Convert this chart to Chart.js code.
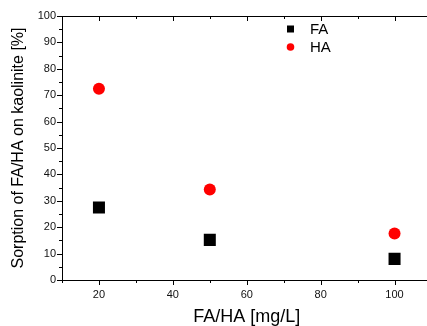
<!DOCTYPE html>
<html>
<head>
<meta charset="utf-8">
<script src="https://cdn.jsdelivr.net/npm/chart.js@4"></script>
<style>
  html, body { margin: 0; padding: 0; background: #fff; overflow: hidden; }
  #wrap { width: 440px; height: 326px; }
</style>
</head>
<body>
<div id="wrap"><canvas id="chart" width="440" height="326"></canvas></div>
<script>
const concentrations = [20, 50, 100];
const faValues = [27.5, 15.2, 8.0];
const haValues = [72.4, 34.3, 17.6];
const xTickValues = [20, 40, 60, 80, 100];
const yTickValues = [0, 10, 20, 30, 40, 50, 60, 70, 80, 90, 100];

const FONT = '"Liberation Sans", Arial, sans-serif';

// minor/major ticks + top border, origin-style
const frame = {
  id: 'frame',
  afterDraw(chart) {
    const { ctx, chartArea: a, scales: { x, y } } = chart;
    ctx.save();
    ctx.strokeStyle = '#000';
    ctx.lineWidth = 1;
    ctx.beginPath();
    ctx.moveTo(a.left, a.top + 0.5);
    ctx.lineTo(a.right, a.top + 0.5);
    ctx.moveTo(a.right - 0.5, a.top);
    ctx.lineTo(a.right - 0.5, a.bottom);
    for (let v = x.min; v <= x.max; v += 10) {
      const px = Math.round(x.getPixelForValue(v)) + 0.5;
      const len = v % 20 === 0 ? 5 : 3;
      ctx.moveTo(px, a.bottom);
      ctx.lineTo(px, a.bottom + len);
      ctx.moveTo(px, a.top);
      ctx.lineTo(px, a.top + len);
    }
    for (let v = y.min; v <= y.max; v += 5) {
      const py = Math.round(y.getPixelForValue(v)) + 0.5;
      const len = v % 10 === 0 ? 5 : 3;
      ctx.moveTo(a.left, py);
      ctx.lineTo(a.left - len, py);
    }
    ctx.stroke();
    ctx.restore();
  }
};

// legend inside the plot, top right
const innerLegend = {
  id: 'innerLegend',
  afterDraw(chart) {
    const { ctx } = chart;
    ctx.save();
    ctx.font = '15px ' + FONT;
    ctx.textBaseline = 'middle';
    chart.data.datasets.forEach((ds, i) => {
      const cy = 29 + i * 18;
      ctx.fillStyle = ds.backgroundColor;
      if (ds.pointStyle === 'rect') {
        ctx.fillRect(287, cy - 3.5, 7, 7);
      } else {
        ctx.beginPath();
        ctx.arc(290.5, cy, 3.8, 0, Math.PI * 2);
        ctx.fill();
      }
      ctx.fillStyle = '#000';
      ctx.fillText(ds.label, 310, cy + 1);
    });
    ctx.restore();
  }
};

const ctx = document.getElementById('chart').getContext('2d');
new Chart(ctx, {
  type: 'scatter',
  data: {
    datasets: [{
      label: 'FA',
      data: concentrations.map((c, i) => ({ x: c, y: faValues[i] })),
      backgroundColor: '#000',
      borderColor: '#000',
      pointStyle: 'rect',
      pointRadius: 8.5,
      pointBorderWidth: 0
    }, {
      label: 'HA',
      data: concentrations.map((c, i) => ({ x: c, y: haValues[i] })),
      backgroundColor: '#ff0000',
      borderColor: '#ff0000',
      pointStyle: 'circle',
      pointRadius: 6,
      pointBorderWidth: 0
    }]
  },
  options: {
    responsive: false,
    animation: false,
    layout: { padding: { left: 0, right: 2, top: 16, bottom: 0 } },
    plugins: {
      legend: { display: false },
      tooltip: { enabled: false }
    },
    scales: {
      x: {
        type: 'linear',
        min: 10,
        max: 110,
        afterBuildTicks: s => { s.ticks = xTickValues.map(v => ({ value: v })); },
        afterFit: s => { s.height = 46; },
        grid: { display: false, drawTicks: false },
        border: { display: true, color: '#000', width: 1 },
        ticks: { padding: 8, color: '#111', font: { family: FONT, size: 11 } },
        title: {
          display: true,
          text: 'FA/HA [mg/L]',
          color: '#000',
          font: { family: FONT, size: 18, lineHeight: 1 },
          padding: { top: 0, bottom: 0 }
        }
      },
      y: {
        min: 0,
        max: 100,
        afterBuildTicks: s => { s.ticks = yTickValues.map(v => ({ value: v })); },
        afterFit: s => { s.width = 62; },
        grid: { display: false, drawTicks: false },
        border: { display: true, color: '#000', width: 1 },
        ticks: { padding: 6, color: '#111', font: { family: FONT, size: 11 } },
        title: {
          display: true,
          text: 'Sorption of FA/HA on kaolinite [%]',
          color: '#000',
          font: { family: FONT, size: 16, lineHeight: 1.2 },
          padding: { top: 9, bottom: 0 }
        }
      }
    }
  },
  plugins: [frame, innerLegend]
});
</script>
</body>
</html>
